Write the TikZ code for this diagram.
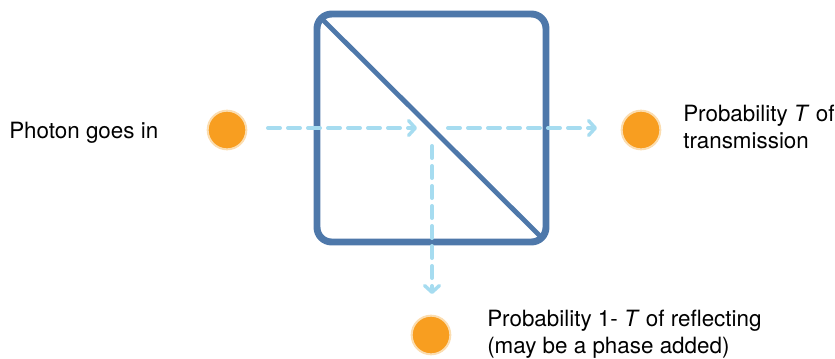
\documentclass[tikz,border=0pt]{standalone}
\usepackage{fontspec}
\setmainfont{TeX Gyre Heros}
\usetikzlibrary{arrows.meta}
\definecolor{cubeblue}{HTML}{4E78AA}
\definecolor{beam}{HTML}{A6DCF0}
\definecolor{photon}{HTML}{F89E20}
\definecolor{halo}{HTML}{FBDDB0}
\tikzset{
  photonnode/.style={circle, fill=photon, draw=halo, line width=1.5pt, minimum size=29pt, inner sep=0pt},
  beamline/.style={draw=beam, line width=3pt, dash pattern=on 9pt off 6pt, line cap=round,
    -{Straight Barb[length=5pt, width=11pt, line width=2.6pt, round]}},
  lbl/.style={font=\fontsize{16.8}{20.5}\selectfont, align=left, inner sep=0pt}
}
\begin{document}
\begin{tikzpicture}[x=0.75pt, y=-0.75pt]
\useasboundingbox (0,0) rectangle (835,358);
% cube
\draw[cubeblue, line width=5.2pt, rounded corners=11pt] (317,14) rectangle (546,242);
\coordinate (tl) at (321,18);
\coordinate (br) at (543,239);
\draw[cubeblue, line width=3.6pt] (tl) -- (br);
% photons
\node[photonnode] (pin) at (227,130) {};
\node[photonnode] (pt) at (641,130) {};
\node[photonnode] (pr) at (431,335) {};
% beams
\coordinate (b0) at (268,128);
\coordinate (b1) at (417,128);
\coordinate (b2) at (448,128);
\coordinate (b3) at (597,128);
\coordinate (v0) at (432,146);
\coordinate (v1) at (432,294);
\draw[beamline] (b0) -- (b1);
\draw[beamline] (b2) -- (b3);
\draw[beamline] (v0) -- (v1);
% labels
\node[lbl, anchor=west] (tin) at (9,133) {Photon goes in};
\node[lbl, anchor=west] (tt) at (683,127) {Probability \textit{T} of\\transmission};
\node[lbl, anchor=west] (tr) at (487,334) {Probability 1- \textit{T} of reflecting\\(may be a phase added)};
\end{tikzpicture}
\end{document}
